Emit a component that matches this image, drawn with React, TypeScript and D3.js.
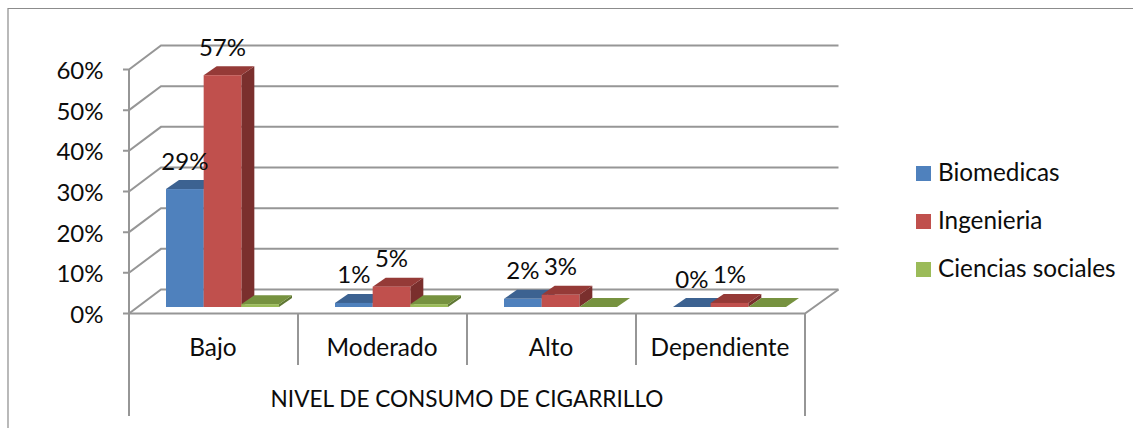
import React from "react";
import * as d3 from "d3";

const categories = ["Bajo", "Moderado", "Alto", "Dependiente"];
const seriesNames = ["Biomedicas", "Ingenieria", "Ciencias sociales"];
const biomedicas = [29, 1, 2, 0];
const ingenieria = [57, 5, 3, 1];
const cienciasSociales = [0.7, 0.7, 0, 0];
const labelledSeries = [true, true, false];
const yTicks = [0, 10, 20, 30, 40, 50, 60];
const axisTitle = "NIVEL DE CONSUMO DE CIGARRILLO";

const front = ["#4F81BD", "#C0504D", "#9BBB59"];
const top = ["#3C6291", "#953A37", "#76923F"];
const side = ["#315078", "#7A2F2D", "#5F7733"];
const GRID = "#969696";
const FONT = "Lato, Carlito, Calibri, sans-serif";

const W = 1133, H = 428;
const X0 = 129, X1 = 805, Y0 = 313.5, Y60 = 69.5;
const DX = 32, DY = -24;
const BACK_RIGHT = 838.5;
const BASE = 307;
const BDX = 13, BDY = -9;

const y = d3.scaleLinear().domain([0, 60]).range([Y0, Y60]);
const h = (v: number) => Y0 - y(v);
const xCat = d3.scaleBand<string>().domain(categories).range([X0, X1]);
const xSeries = d3.scaleBand<string>().domain(seriesNames).range([37, 150]);
const values = [biomedicas, ingenieria, cienciasSociales];
const pts = (p: number[][]) => p.map((q) => q.join(",")).join(" ");

export default function App() {
  const grid = { stroke: GRID, strokeWidth: 2, fill: "none" };
  const txt = { fontFamily: FONT, fill: "#0c0c0c", dominantBaseline: "central" as const };
  return (
    <svg width={W} height={H} viewBox={`0 0 ${W} ${H}`} style={{ position: "fixed", left: 0, top: 0, background: "#fff" }}>
      <path d={`M8 428V8.5H${W}`} fill="none" stroke="#8c8c8c" strokeWidth={1.2} />

      {yTicks.map((t) => (
        <g key={t}>
          <polyline points={pts([[123, y(t)], [X0, y(t)], [X0 + DX, y(t) + DY], [BACK_RIGHT, y(t) + DY]])} {...grid} />
          <text x={103.5} y={y(t)} textAnchor="end" fontSize={24} {...txt}>{t}%</text>
        </g>
      ))}
      <line x1={X0} x2={X0} y1={Y60} y2={416} {...grid} />
      <polyline points={pts([[X0, Y0], [X1, Y0], [BACK_RIGHT, Y0 + DY]])} {...grid} />
      <line x1={X1} x2={X1} y1={Y0} y2={416} {...grid} />

      {categories.slice(1).map((c) => (
        <line key={c} x1={xCat(c)!} x2={xCat(c)!} y1={Y0} y2={365} {...grid} />
      ))}

      {categories.map((c, ci) => (
        <g key={c}>
          {seriesNames.map((s, si) => {
            const x = xCat(c)! + xSeries(s)!;
            const w = xSeries.bandwidth();
            const v = values[si][ci];
            const t = BASE - h(v);
            return (
              <g key={s}>
                <polygon points={pts([[x + w, BASE], [x + w + BDX, BASE + BDY], [x + w + BDX, t + BDY], [x + w, t]])} fill={side[si]} />
                <polygon points={pts([[x, t], [x + BDX, t + BDY], [x + w + BDX, t + BDY], [x + w, t]])} fill={top[si]} />
                <rect x={x} y={t} width={w} height={BASE - t} fill={front[si]} />
              </g>
            );
          })}
        </g>
      ))}

      {categories.map((c, ci) =>
        seriesNames.map((s, si) =>
          labelledSeries[si] ? (
            <text key={s} x={xCat(c)! + xSeries(s)! + xSeries.bandwidth() / 2} y={BASE - h(values[si][ci]) - 29} textAnchor="middle" fontSize={24} {...txt}>
              {values[si][ci]}%
            </text>
          ) : null
        )
      )}

      {categories.map((c) => (
        <text key={c} x={xCat(c)! + xCat.bandwidth() / 2 - 0.5} y={346} textAnchor="middle" fontSize={24.4} {...txt}>{c}</text>
      ))}
      <text x={(X0 + X1) / 2} y={398} textAnchor="middle" fontSize={22.6} {...txt}>{axisTitle}</text>

      {seriesNames.map((s, i) => (
        <g key={s} transform={`translate(916,${166 + i * 48})`}>
          <rect width={15} height={15} fill={front[i]} />
          <text x={22} y={5} fontSize={24.3} {...txt}>{s}</text>
        </g>
      ))}
    </svg>
  );
}
